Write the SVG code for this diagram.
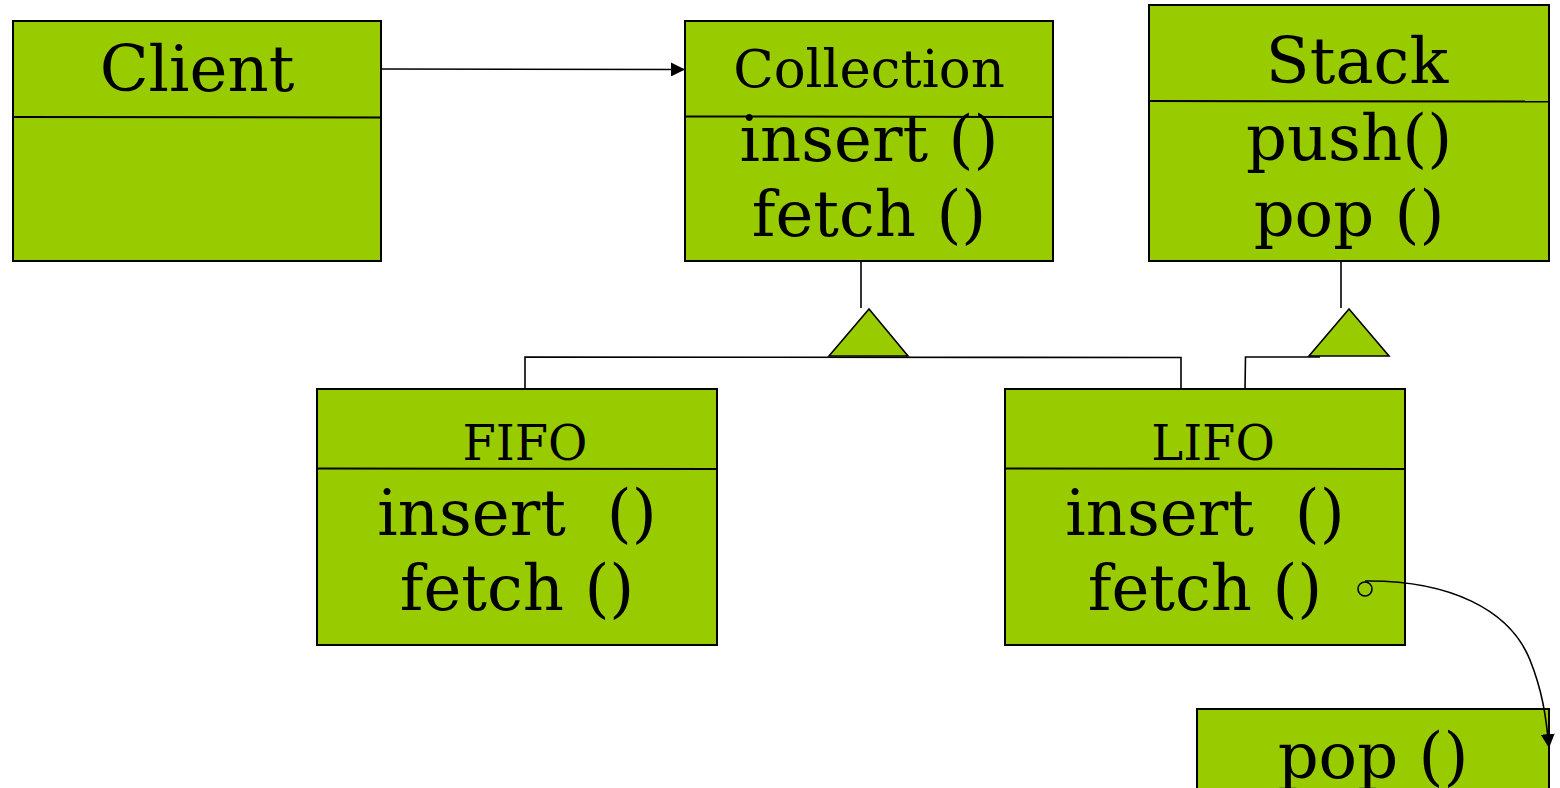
<svg xmlns="http://www.w3.org/2000/svg" width="1560" height="788" viewBox="0 0 1560 788">
  <style>
    .box { fill: #99cc00; stroke: #000; stroke-width: 2; }
    .div { stroke: #000; stroke-width: 2; fill: none; }
    .t { font-family: "DejaVu Serif", "Liberation Serif", serif; fill: #000; text-anchor: middle; }
    .big { font-size: 64px; }
    .mid { font-size: 53px; }
    .small { font-size: 48px; }
    .wire { stroke: #000; stroke-width: 1.6; fill: none; }
    .tri { fill: #99cc00; stroke: #000; stroke-width: 1.6; stroke-linejoin: miter; }
  </style>
  <defs>
    <marker id="arrowBig" viewBox="0 0 10 10" refX="10" refY="5" markerWidth="14" markerHeight="14" orient="auto" markerUnits="userSpaceOnUse">
      <path d="M0,0 L10,5 L0,10 Z" fill="#000"/>
    </marker>
  </defs>

  <rect width="1560" height="788" fill="#fff"/>

  <g id="client">
    <rect class="box" x="13" y="21" width="368" height="240"/>
    <line class="div" x1="13" y1="117" x2="381" y2="117.5"/>
    <text class="t big" x="197" y="91">Client</text>
  </g>

  <g id="collection">
    <rect class="box" x="685" y="21" width="368" height="240"/>
    <line class="div" x1="685" y1="116.5" x2="1053" y2="117"/>
    <text class="t mid" x="869" y="87">Collection</text>
    <text class="t big" x="869" y="161">insert ()</text>
    <text class="t big" x="869" y="236">fetch ()</text>
  </g>

  <g id="stack">
    <rect class="box" x="1149" y="5" width="400" height="256"/>
    <line class="div" x1="1149" y1="101" x2="1549" y2="101.5"/>
    <text class="t big" x="1357" y="83">Stack</text>
    <text class="t big" x="1349" y="160">push()</text>
    <text class="t big" x="1349" y="236">pop ()</text>
  </g>

  <g id="fifo">
    <rect class="box" x="317" y="389" width="400" height="256"/>
    <line class="div" x1="317" y1="468.5" x2="717" y2="469"/>
    <text class="t small" x="525" y="460">FIFO</text>
    <text class="t big" x="517" y="535" xml:space="preserve">insert  ()</text>
    <text class="t big" x="517" y="610">fetch ()</text>
  </g>

  <g id="lifo">
    <rect class="box" x="1005" y="389" width="400" height="256"/>
    <line class="div" x1="1005" y1="468.5" x2="1405" y2="469"/>
    <text class="t small" x="1213" y="460">LIFO</text>
    <text class="t big" x="1205" y="535" xml:space="preserve">insert  ()</text>
    <text class="t big" x="1205" y="610">fetch ()</text>
  </g>

  <g id="pop">
    <rect class="box" x="1197" y="709" width="352" height="100"/>
    <text class="t big" x="1373" y="778">pop ()</text>
  </g>

  <!-- connectors, drawn on top of the boxes -->
  <g id="connectors">
    <line class="wire" x1="381" y1="69" x2="685" y2="69.5" marker-end="url(#arrowBig)"/>
    <!-- Collection generalization -->
    <line class="wire" x1="861" y1="261" x2="861" y2="308"/>
    <polyline class="wire" points="525,389 525,357 1181,357.5 1181,389"/>
    <polygon class="tri" points="869,309 829,356 908,356"/>
    <!-- Stack generalization -->
    <line class="wire" x1="1341" y1="261" x2="1341" y2="308"/>
    <polyline class="wire" points="1245,389 1245.5,357 1320,357"/>
    <polygon class="tri" points="1349,309 1309,356 1389,356"/>
    <!-- fetch delegates to pop -->
    <circle cx="1365" cy="589" r="7" fill="none" stroke="#000" stroke-width="1.6"/>
    <path class="wire" d="M1365,581 C1450,580 1510,610 1530,660 C1542,690 1546,715 1549,748" marker-end="url(#arrowBig)"/>
  </g>
</svg>
